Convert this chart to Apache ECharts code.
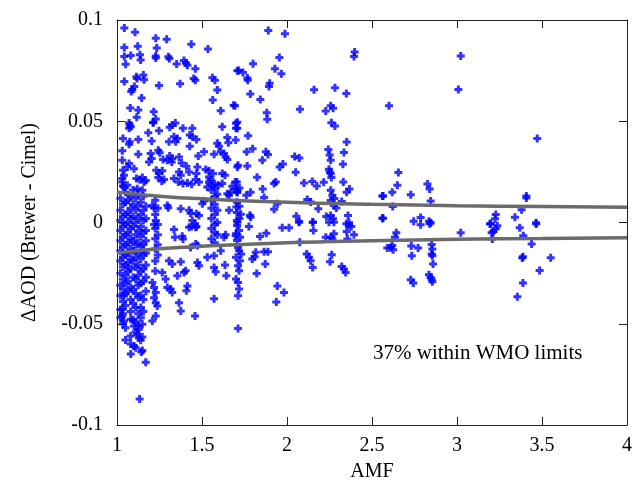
<!DOCTYPE html>
<html><head><meta charset="utf-8">
<script src="https://cdn.jsdelivr.net/npm/echarts@6/dist/echarts.min.js"></script>
<style>html,body{margin:0;padding:0;background:#fff}#c{width:635px;height:489px}</style>
</head><body><div id="c"></div>
<script>
// AMF (x) vs ΔAOD (y) samples, grouped by region of the plot
var pointsTop = [[1.043,0.096],[1.106,0.094],[1.228,0.091],[1.292,0.0905],[1.437,0.088],[1.535,0.0857],[1.043,0.0864],[1.122,0.087],[1.234,0.0862],[1.043,0.082],[1.081,0.0825],[1.135,0.0829],[1.139,0.0802],[1.228,0.0822],[1.228,0.0812],[1.302,0.0819],[1.308,0.081],[1.351,0.0783],[1.394,0.08],[1.406,0.0788],[1.414,0.0776],[1.461,0.0759],[1.051,0.0781],[1.708,0.0749],[1.043,0.0696],[1.114,0.072],[1.118,0.0711],[1.155,0.0728],[1.159,0.0705],[1.247,0.0676],[1.371,0.0685],[1.451,0.0711],[1.461,0.0703],[1.561,0.0715],[1.576,0.0703],[1.102,0.0671],[1.09,0.0657],[1.084,0.0647],[1.145,0.0615],[1.59,0.0654],[1.563,0.0605],[1.686,0.0579],[1.078,0.0566],[1.125,0.0556],[1.216,0.0547],[1.61,0.0552],[1.116,0.052],[1.228,0.0511],[1.214,0.0495],[1.071,0.0491],[1.343,0.0491],[1.708,0.0495]];
var pointsUpperLeft = [[1.075,0.0481],[1.071,0.0465],[1.081,0.0473],[1.212,0.0493],[1.325,0.0481],[1.31,0.047],[1.388,0.0465],[1.443,0.0465],[1.428,0.0432],[1.443,0.0423],[1.619,0.0473],[1.708,0.0465],[1.184,0.0443],[1.247,0.0453],[1.035,0.0415],[1.075,0.0399],[1.071,0.0387],[1.125,0.041],[1.204,0.0403],[1.335,0.0423],[1.355,0.0415],[1.306,0.0399],[1.345,0.0399],[1.428,0.0377],[1.467,0.041],[1.59,0.0391],[1.6,0.0377],[1.649,0.042],[1.655,0.0394],[1.031,0.0354],[1.125,0.0337],[1.243,0.0357],[1.251,0.0344],[1.198,0.0341],[1.204,0.0316],[1.188,0.0299],[1.31,0.0328],[1.271,0.0311],[1.296,0.0308],[1.322,0.0299],[1.325,0.0316],[1.365,0.0324],[1.478,0.0328],[1.512,0.0349],[1.571,0.0337],[1.61,0.0349],[1.629,0.0341],[1.639,0.0324],[1.649,0.0311],[1.031,0.0308],[1.035,0.0258],[1.041,0.0233],[1.031,0.0217],[1.031,0.02],[1.071,0.0291],[1.061,0.0274],[1.1,0.0266],[1.231,0.0258],[1.247,0.0242],[1.266,0.0255],[1.38,0.0294],[1.408,0.0278],[1.424,0.025],[1.365,0.025],[1.375,0.0233],[1.473,0.0274],[1.467,0.0242],[1.522,0.0262],[1.541,0.0255],[1.565,0.0242],[1.541,0.0225],[1.619,0.0242],[1.635,0.0233],[1.708,0.0274],[1.114,0.0217],[1.133,0.0212],[1.149,0.0222],[1.169,0.0208],[1.159,0.02],[1.243,0.0222],[1.263,0.0205],[1.276,0.0212],[1.335,0.0217],[1.361,0.02],[1.388,0.0192],[1.414,0.0195],[1.439,0.0189],[1.463,0.0212],[1.482,0.02],[1.541,0.02],[1.551,0.0212],[1.561,0.0184],[1.531,0.0175],[1.576,0.0167],[1.596,0.0184],[1.619,0.0192],[1.678,0.0179],[1.708,0.0159],[1.041,0.0175],[1.061,0.0184],[1.149,0.0159],[1.119,0.0167],[1.375,0.0068],[1.424,0.006],[1.433,0.0046],[1.467,0.0043],[1.482,0.0035],[1.443,0.001],[1.459,-0.0006],[1.467,-0.002],[1.439,-0.002],[1.502,0.0093],[1.512,0.0106],[1.296,0.0084],[1.302,0.0073],[1.208,0.0084],[1.218,0.0073],[1.228,0.001],[1.218,-0.001],[1.659,0.0134],[1.649,0.0142],[1.669,0.015],[1.659,0.006],[1.702,0.0076],[1.708,0.0001]];
var pointsLowerLeft = [[1.335,-0.0035],[1.341,-0.0073],[1.388,-0.0081],[1.384,-0.0068],[1.424,-0.0023],[1.463,-0.0023],[1.639,-0.0061],[1.629,-0.0073],[1.698,-0.0065],[1.463,-0.0106],[1.473,-0.0114],[1.433,-0.0123],[1.531,-0.0172],[1.571,-0.0164],[1.61,-0.0139],[1.306,-0.0189],[1.325,-0.0205],[1.375,-0.0194],[1.404,-0.0238],[1.394,-0.0247],[1.355,-0.0263],[1.266,-0.0247],[1.473,-0.0197],[1.482,-0.0213],[1.571,-0.0222],[1.58,-0.0243],[1.635,-0.021],[1.643,-0.0263],[1.286,-0.0279],[1.296,-0.0321],[1.316,-0.0329],[1.325,-0.0346],[1.414,-0.0313],[1.408,-0.0337],[1.208,-0.0296],[1.218,-0.0321],[1.228,-0.0346],[1.218,-0.0371],[1.228,-0.0396],[1.237,-0.0412],[1.365,-0.0396],[1.375,-0.0437],[1.459,-0.0462],[1.571,-0.0376],[1.228,-0.0462],[1.208,-0.0486],[1.119,-0.0552],[1.129,-0.0569],[1.149,-0.0566],[1.139,-0.0582],[1.1,-0.061],[1.11,-0.0619],[1.081,-0.0649],[1.149,-0.0632],[1.143,-0.0639],[1.169,-0.069],[1.133,-0.0872],[1.041,-0.0362],[1.031,-0.0428],[1.031,-0.0462],[1.041,-0.0486],[1.081,-0.0478],[1.1,-0.0511],[1.129,-0.0527],[1.149,-0.0503]];
var pointsDense = [[1.02,0.012],[1.02,0.006],[1.02,0.001],[1.02,-0.004],[1.02,-0.009],[1.02,-0.014],[1.02,-0.019],[1.02,-0.025],[1.02,-0.031],[1.02,-0.036],[1.02,-0.043],[1.02,-0.047],[1.035,0.018],[1.035,0.009],[1.035,0.003],[1.035,-0.002],[1.035,-0.007],[1.035,-0.012],[1.035,-0.017],[1.035,-0.022],[1.035,-0.028],[1.035,-0.033],[1.035,-0.039],[1.035,-0.045],[1.035,-0.05],[1.05,0.015],[1.05,0.01],[1.05,0.004],[1.05,-0.001],[1.05,-0.006],[1.05,-0.011],[1.05,-0.016],[1.05,-0.021],[1.05,-0.026],[1.05,-0.03],[1.05,-0.035],[1.05,-0.041],[1.05,-0.052],[1.05,-0.058],[1.065,0.011],[1.065,0.005],[1.065,0.0],[1.065,-0.005],[1.065,-0.01],[1.065,-0.015],[1.065,-0.02],[1.065,-0.024],[1.065,-0.029],[1.065,-0.034],[1.08,0.013],[1.08,0.007],[1.08,0.002],[1.08,-0.003],[1.08,-0.008],[1.08,-0.013],[1.08,-0.018],[1.08,-0.023],[1.08,-0.032],[1.08,-0.038],[1.08,-0.044],[1.08,-0.056],[1.08,-0.06],[1.095,0.016],[1.095,0.009],[1.095,0.003],[1.095,-0.002],[1.095,-0.009],[1.095,-0.014],[1.095,-0.019],[1.095,-0.027],[1.095,-0.033],[1.095,-0.04],[1.095,-0.048],[1.11,0.012],[1.11,0.006],[1.11,0.0],[1.11,-0.006],[1.11,-0.011],[1.11,-0.017],[1.11,-0.022],[1.11,-0.028],[1.11,-0.035],[1.11,-0.042],[1.11,-0.049],[1.11,-0.054],[1.125,0.014],[1.125,0.008],[1.125,0.002],[1.125,-0.004],[1.125,-0.01],[1.125,-0.015],[1.125,-0.021],[1.125,-0.026],[1.125,-0.031],[1.125,-0.037],[1.125,-0.045],[1.125,-0.051],[1.14,0.01],[1.14,0.004],[1.14,-0.002],[1.14,-0.007],[1.14,-0.012],[1.14,-0.018],[1.14,-0.024],[1.14,-0.03],[1.14,-0.036],[1.14,-0.042],[1.14,-0.047],[1.155,0.013],[1.155,0.006],[1.155,0.001],[1.155,-0.005],[1.155,-0.011],[1.155,-0.016],[1.155,-0.023],[1.155,-0.029],[1.155,-0.038],[1.155,-0.044],[1.17,0.008],[1.17,0.002],[1.17,-0.004],[1.17,-0.009],[1.17,-0.015],[1.17,-0.021],[1.17,-0.027],[1.17,-0.034],[1.225,0.011],[1.225,0.004],[1.225,-0.003],[1.225,-0.008],[1.225,-0.013],[1.225,-0.019],[1.225,-0.024],[1.24,0.007],[1.24,-0.001],[1.24,-0.006],[1.24,-0.011],[1.24,-0.016],[1.555,0.016],[1.555,0.011],[1.555,0.007],[1.555,0.002],[1.555,-0.003],[1.555,-0.008],[1.575,0.019],[1.575,0.013],[1.575,0.009],[1.575,0.004],[1.575,-0.001],[1.575,-0.005],[1.575,-0.01],[1.59,0.014],[1.59,0.006],[1.59,0.0],[1.59,-0.006],[1.705,0.02],[1.705,0.015],[1.705,0.01],[1.705,0.005],[1.705,0.001],[1.72,0.017],[1.72,0.008],[1.72,0.002]];
var pointsMid = [[1.89,0.0948],[1.988,0.0932],[2.398,0.0842],[2.394,0.082],[1.955,0.0815],[1.8,0.0784],[1.716,0.0751],[1.741,0.0741],[1.767,0.0713],[1.769,0.0703],[1.929,0.0759],[1.967,0.0734],[1.898,0.0688],[1.894,0.0671],[1.784,0.0635],[1.843,0.0607],[2.159,0.0655],[2.282,0.0665],[2.349,0.0637],[1.694,0.0577],[1.881,0.0542],[1.884,0.051],[2.076,0.0559],[2.228,0.0551],[2.257,0.0577],[2.271,0.0564],[1.7,0.049],[1.7,0.0465],[2.261,0.0493],[2.282,0.0476],[1.771,0.0428],[1.698,0.0407],[2.351,0.0397],[1.763,0.0349],[1.798,0.0364],[1.876,0.0349],[1.888,0.0336],[1.855,0.0308],[2.045,0.0326],[2.072,0.0319],[2.243,0.0361],[2.251,0.0333],[2.257,0.0308],[2.335,0.0346],[1.712,0.0283],[1.766,0.0279],[1.957,0.0274],[1.976,0.0289],[2.329,0.0288],[2.051,0.0248],[1.824,0.0223],[2.247,0.0263],[2.257,0.0242],[2.261,0.0222],[2.251,0.025],[1.696,0.02],[1.698,0.0167],[1.708,0.015],[1.924,0.0192],[1.934,0.02],[2.1,0.0195],[2.149,0.0203],[2.175,0.018],[2.216,0.0199],[2.331,0.02],[1.857,0.0165],[1.761,0.0134],[1.786,0.015],[1.865,0.0123],[2.257,0.0159],[2.267,0.0134],[2.278,0.0118],[2.257,0.0109],[2.351,0.015],[2.367,0.0165],[2.561,0.0131],[2.119,0.0114],[2.139,0.0101],[1.943,0.0093],[1.924,0.0065],[2.184,0.0068],[2.276,0.0084],[2.29,0.0071],[2.322,0.0104],[1.728,0.0041],[1.782,0.0036],[1.786,0.0026],[2.055,0.0031],[2.071,0.0005],[2.151,0.0001],[2.231,0.003],[2.257,0.0035],[2.271,0.0018],[2.247,0.0001],[2.276,0.0001],[2.359,0.0035],[2.365,-0.0001],[2.561,0.0021]];
var pointsMidLow = [[1.706,-0.0015],[1.718,-0.004],[1.7,-0.0056],[1.724,-0.0073],[1.706,-0.0089],[1.712,-0.0123],[1.718,-0.0139],[1.73,-0.0155],[1.7,-0.0172],[1.724,-0.0189],[1.712,-0.0213],[1.718,-0.0238],[1.7,-0.0279],[1.712,-0.0296],[1.718,-0.0329],[1.712,-0.0362],[1.712,-0.0523],[1.776,-0.002],[1.841,-0.0069],[1.878,-0.0053],[1.816,-0.0147],[1.796,-0.018],[1.81,-0.0169],[1.865,-0.0144],[1.888,-0.0144],[1.872,-0.0205],[1.822,-0.0252],[1.943,-0.0313],[1.982,-0.0346],[1.937,-0.0392],[1.972,-0.0026],[2.012,-0.0026],[2.071,0.0001],[2.153,0.0001],[2.155,-0.004],[2.075,-0.0098],[2.116,-0.0155],[2.129,-0.0172],[2.139,-0.0189],[2.151,-0.0222],[2.228,-0.0073],[2.257,-0.0073],[2.276,-0.0056],[2.267,-0.0081],[2.263,-0.0159],[2.253,-0.0194],[2.322,-0.0217],[2.335,-0.023],[2.345,-0.0247],[2.349,-0.0006],[2.365,-0.0015],[2.378,-0.002],[2.351,-0.0045],[2.355,-0.0081],[2.394,-0.006]];
var pointsRight = [[3.022,0.0822],[3.008,0.0657],[2.6,0.0577],[3.472,0.0415],[2.655,0.0247],[2.649,0.0184],[2.565,0.0131],[2.619,0.0149],[2.728,0.0137],[2.826,0.019],[2.839,0.0165],[2.845,0.0106],[3.408,0.0131],[3.408,0.0121],[3.38,0.0063],[2.622,0.0079],[2.565,0.0021],[2.745,0.0006],[2.786,0.0025],[2.835,0.0006],[2.845,-0.0001],[3.228,0.004],[3.224,0.0018],[3.198,-0.0005],[3.341,0.0026],[3.465,-0.0001],[2.786,-0.0011],[2.839,-0.0006],[2.643,-0.0051],[2.635,-0.0073],[2.59,-0.0126],[2.624,-0.0135],[2.619,-0.0114],[2.61,-0.0123],[2.731,-0.0116],[2.771,-0.0126],[2.734,-0.0164],[2.851,-0.0109],[2.855,-0.0131],[2.851,-0.0155],[2.855,-0.0164],[2.859,-0.0205],[2.835,-0.0258],[2.845,-0.0271],[2.855,-0.0293],[2.851,-0.0281],[2.728,-0.0283],[2.743,-0.0299],[3.022,-0.0051],[3.194,-0.0008],[3.237,-0.0016],[3.228,-0.0031],[3.214,-0.0045],[3.204,-0.0051],[3.208,-0.0081],[3.369,-0.0026],[3.39,-0.0065],[3.466,-0.0008],[3.439,-0.0106],[3.388,-0.0169],[3.384,-0.0175],[3.551,-0.0174],[3.486,-0.0237],[3.388,-0.0299],[3.355,-0.0367]];

// WMO limit curves
var limitAMF = [1, 1.25, 1.5, 2, 2.5, 3, 3.5, 4];
var limitUpper = [0.015, 0.013, 0.0117, 0.010, 0.009, 0.0083, 0.0079, 0.0075];
var limitLower = [-0.015, -0.013, -0.0117, -0.010, -0.009, -0.0083, -0.0079, -0.0075];

var xTicks = ['1','1.5','2','2.5','3','3.5','4'];
var yTicks = ['-0.1','-0.05','0','0.05','0.1'];
var annotation = '37% within WMO limits';

var allPoints = [].concat(pointsTop, pointsUpperLeft, pointsLowerLeft, pointsDense, pointsMid, pointsMidLow, pointsRight);
var FONT = '"Liberation Serif", "Times New Roman", serif';
var plus = 'path://M2.5,0h3v2.5h2.5v3h-2.5v2.5h-3v-2.5h-2.5v-3h2.5z';
var axisLine = {show:true, onZero:false, lineStyle:{color:'#222', width:1}};
var tick = {show:true, inside:true, length:8, lineStyle:{color:'#222', width:1}};

var chart = echarts.init(document.getElementById('c'), null, {renderer:'canvas'});
chart.setOption({
  animation:false,
  backgroundColor:'#fff',
  grid:{left:117, right:6, top:20, bottom:64},
  xAxis:[
    {type:'value', min:1, max:4, interval:0.5, position:'bottom',
     axisLine:axisLine, axisTick:tick, splitLine:{show:false},
     axisLabel:{fontFamily:FONT, fontSize:20, color:'#000', margin:11,
       formatter:function(v){var s=String(Math.round(v*10)/10); return xTicks.indexOf(s)>=0?s:'';}},
     name:'AMF', nameLocation:'middle', nameGap:37,
     nameTextStyle:{fontFamily:FONT, fontSize:20, color:'#000'}},
    {type:'value', min:1, max:4, interval:0.5, position:'top',
     axisLine:axisLine, axisTick:tick, splitLine:{show:false}, axisLabel:{show:false}}
  ],
  yAxis:[
    {type:'value', min:-0.1, max:0.1, interval:0.05, position:'left',
     axisLine:axisLine, axisTick:tick, splitLine:{show:false},
     axisLabel:{fontFamily:FONT, fontSize:20, color:'#000', margin:14,
       formatter:function(v){var s=String(Math.round(v*100)/100); return yTicks.indexOf(s)>=0?s:'';}},
     name:'ΔAOD (Brewer - Cimel)', nameLocation:'middle', nameGap:77, nameRotate:90,
     nameTextStyle:{fontFamily:FONT, fontSize:20, color:'#000'}},
    {type:'value', min:-0.1, max:0.1, interval:0.05, position:'right',
     axisLine:axisLine, axisTick:tick, splitLine:{show:false}, axisLabel:{show:false}}
  ],
  series:[
    {type:'scatter', data:allPoints, symbol:plus, symbolSize:8,
     itemStyle:{color:'#0000ff'}, z:2, silent:true},
    {type:'line', data:limitAMF.map(function(x,i){return [x, limitUpper[i]];}), smooth:true,
     showSymbol:false, symbol:'none', lineStyle:{color:'#6b6b6b', width:3.5}, z:3, silent:true},
    {type:'line', data:limitAMF.map(function(x,i){return [x, limitLower[i]];}), smooth:true,
     showSymbol:false, symbol:'none', lineStyle:{color:'#6b6b6b', width:3.5}, z:3, silent:true}
  ],
  graphic:[{type:'text', left:373, top:343,
    style:{text:annotation, font:'21px "Liberation Serif", serif', fill:'#000'}}]
});
</script></body></html>
